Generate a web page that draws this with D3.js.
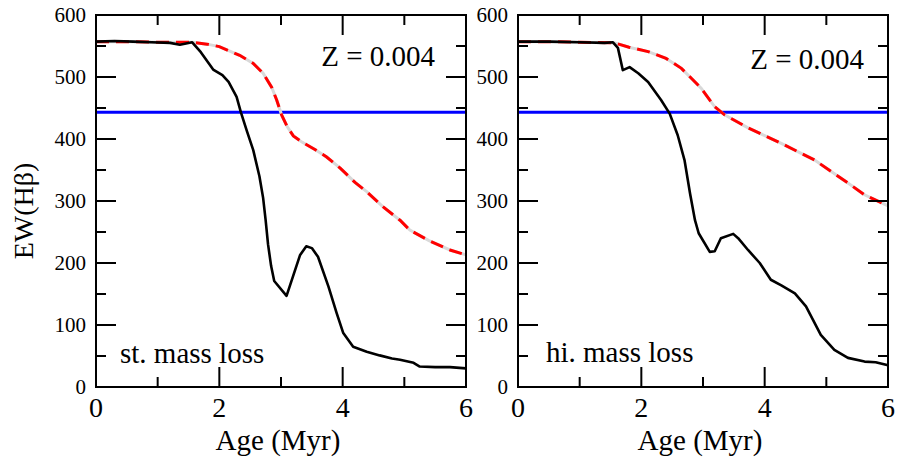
<!DOCTYPE html>
<html><head><meta charset="utf-8">
<script src="https://cdn.jsdelivr.net/npm/d3@7"></script>
<style>body{margin:0;background:#fff}svg{display:block}text{font-family:"Liberation Serif","Times New Roman",serif;fill:#000}</style>
</head><body><svg id="c" width="898" height="459"></svg>
<script>
const xTicks = [0, 2, 4, 6];
const yTicks = [0, 100, 200, 300, 400, 500, 600];
const blueLevel = 443;
const zLabel = "Z = 0.004";
const panelLabels = ["st. mass loss", "hi. mass loss"];
const xTitle = "Age (Myr)";
const yTitle = "EW(Hβ)";

const stSolid = [[0,557],[0.3,558],[0.6,557],[0.9,556],[1.2,555],[1.36,552],[1.56,556],[1.7,540],[1.9,512],[2.05,503],[2.15,492],[2.28,468],[2.35,443],[2.45,412],[2.55,382],[2.65,340],[2.71,305],[2.75,270],[2.79,230],[2.84,195],[2.89,171],[3.09,147],[3.2,180],[3.31,213],[3.41,227],[3.5,224],[3.6,210],[3.77,162],[3.9,120],[4.01,87],[4.17,65],[4.39,57],[4.6,51],[4.8,46],[4.93,44],[5.15,39],[5.25,33],[5.5,32],[5.74,32],[6,30]];
const stDashed = [[0,557],[0.5,557],[1.0,556],[1.56,556],[1.8,553],[2.0,549],[2.33,535],[2.55,522],[2.71,506],[2.85,483],[2.93,463],[3.01,439],[3.1,420],[3.2,405],[3.34,395],[3.55,383],[3.74,371],[3.96,353],[4.2,330],[4.39,315],[4.65,291],[4.93,269],[5.09,253],[5.4,236],[5.74,221],[6,213]];
const hiSolid = [[0,557],[0.5,557],[1.0,556],[1.4,555],[1.54,556],[1.62,547],[1.7,511],[1.81,516],[1.95,506],[2.11,492],[2.32,463],[2.46,441],[2.59,406],[2.7,366],[2.79,312],[2.87,269],[2.93,248],[3.11,218],[3.19,219],[3.29,240],[3.49,247],[3.57,240],[3.73,221],[3.92,200],[4.1,173],[4.27,164],[4.49,151],[4.67,130],[4.91,84],[5.13,60],[5.35,47],[5.62,41],[5.8,40],[6,35]];
const hiDashed = [[0,557],[0.5,557],[1.0,556],[1.57,555],[1.8,548],[2.11,541],[2.4,530],[2.65,514],[2.97,482],[3.19,452],[3.35,439],[3.73,418],[4.27,393],[4.81,366],[5.35,329],[5.62,310],[6,292]];

const svg = d3.select("#c");
const y = d3.scaleLinear().domain([0, 600]).range([387, 15]);
const panels = [
  {x0: 96, x1: 466, solid: stSolid, dashed: stDashed, label: panelLabels[0], lx: 120, ly: 363, zx: 435, zy: 66},
  {x0: 518, x1: 888, solid: hiSolid, dashed: hiDashed, label: panelLabels[1], lx: 546, ly: 362, zx: 864, zy: 69}
];

panels.forEach((p, i) => {
  const x = d3.scaleLinear().domain([0, 6]).range([p.x0, p.x1]);
  const g = svg.append("g");
  const line = d3.line().x(d => x(d[0])).y(d => y(d[1]));

  g.append("line").attr("x1", p.x0).attr("x2", p.x1).attr("y1", y(blueLevel)).attr("y2", y(blueLevel))
    .attr("stroke", "#0000ff").attr("stroke-width", 3);

  g.append("path").datum(p.dashed).attr("d", line).attr("fill", "none").attr("stroke", "#d9d9d9").attr("stroke-width", 3);
  g.append("path").datum(p.dashed).attr("d", line).attr("fill", "none").attr("stroke", "#ff0000").attr("stroke-width", 3)
    .attr("stroke-dasharray", "13,7");
  g.append("path").datum(p.solid).attr("d", line).attr("fill", "none").attr("stroke", "#000").attr("stroke-width", 2.6)
    .attr("stroke-linejoin", "round");

  const xMinor = d3.range(0, 7, 1);
  const yMinor = d3.range(0, 601, 50);
  const axisG = g.append("g").attr("stroke", "#000").attr("stroke-width", 2);
  xMinor.forEach(v => {
    const L = v % 2 === 0 ? 20 : 10;
    axisG.append("line").attr("x1", x(v)).attr("x2", x(v)).attr("y1", y(0)).attr("y2", y(0) - L);
    axisG.append("line").attr("x1", x(v)).attr("x2", x(v)).attr("y1", y(600)).attr("y2", y(600) + L);
  });
  yMinor.forEach(v => {
    const L = v % 100 === 0 ? 20 : 10;
    axisG.append("line").attr("x1", p.x0).attr("x2", p.x0 + L).attr("y1", y(v)).attr("y2", y(v));
    axisG.append("line").attr("x1", p.x1).attr("x2", p.x1 - L).attr("y1", y(v)).attr("y2", y(v));
  });
  axisG.append("rect").attr("x", p.x0).attr("y", y(600)).attr("width", p.x1 - p.x0).attr("height", y(0) - y(600))
    .attr("fill", "none");

  g.selectAll(".xt").data(xTicks).enter().append("text")
    .attr("x", d => x(d)).attr("y", 417).attr("text-anchor", "middle").attr("font-size", 28).text(d => d);
  g.selectAll(".yt").data(yTicks).enter().append("text")
    .attr("x", p.x0 - 10).attr("y", d => y(d) + 7).attr("text-anchor", "end").attr("font-size", 21).text(d => d);

  g.append("text").attr("x", (p.x0 + p.x1) / 2 - 3).attr("y", 450).attr("text-anchor", "middle").attr("font-size", 29).text(xTitle);
  g.append("text").attr("x", p.lx).attr("y", p.ly).attr("font-size", 29).text(p.label);
  g.append("text").attr("x", p.zx).attr("y", p.zy).attr("text-anchor", "end").attr("font-size", 29).text(zLabel);
});

svg.append("text").attr("transform", "translate(33,211) rotate(-90)").attr("text-anchor", "middle").attr("font-size", 28).text(yTitle);
</script></body></html>
